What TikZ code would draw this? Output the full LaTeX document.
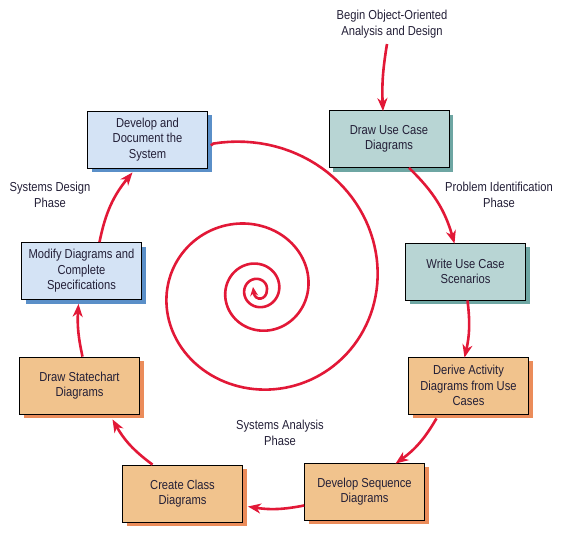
\documentclass[tikz,border=0pt]{standalone}
\usepackage{fontspec}
\setmainfont{Liberation Sans}[FakeStretch=0.86]
\usetikzlibrary{arrows.meta,shadows}
\definecolor{flowred}{RGB}{226,24,55}
\definecolor{inktext}{RGB}{35,31,55}
\definecolor{designfill}{RGB}{212,227,245}
\definecolor{designshade}{RGB}{90,143,200}
\definecolor{probfill}{RGB}{184,213,212}
\definecolor{probshade}{RGB}{110,166,163}
\definecolor{analfill}{RGB}{241,195,141}
\definecolor{analshade}{RGB}{235,140,90}

\begin{document}
\begin{tikzpicture}[x=1pt,y=-1pt]
			\tikzstyle{every node}+=[inner sep=0pt, align=center, text=inktext, font=\fontsize{13}{15.5}\selectfont]
			\tikzstyle{phasebox}=[draw=black, line width=0.8pt, minimum width=120pt, minimum height=57pt]
			\tikzstyle{designbox}=[phasebox, fill=designfill, drop shadow={shadow xshift=4pt, shadow yshift=-4pt, fill=designshade, opacity=1}]
			\tikzstyle{probbox}=[phasebox, fill=probfill, drop shadow={shadow xshift=4pt, shadow yshift=-4pt, fill=probshade, opacity=1}]
			\tikzstyle{analbox}=[phasebox, fill=analfill, drop shadow={shadow xshift=4pt, shadow yshift=-4pt, fill=analshade, opacity=1}]
			\tikzstyle{flow}=[draw=flowred, line width=2.6pt, -{Stealth[length=13pt, width=10pt, inset=4pt]}]
			\useasboundingbox (0,0) rectangle (579,541);
			\node [probbox] (usecase) at (389,139) {Draw Use Case\\Diagrams};
			\node [probbox] (scenario) at (465.5,271.5) {Write Use Case\\Scenarios};
			\node [analbox] (activity) at (468.5,385.5) {Derive Activity\\Diagrams from Use\\Cases};
			\node [analbox] (sequence) at (364.5,491.5) {Develop Sequence\\Diagrams};
			\node [analbox] (classdiag) at (182.5,493.5) {Create Class\\Diagrams};
			\node [analbox] (statechart) at (79.5,385.5) {Draw Statechart\\Diagrams};
			\node [designbox] (modify) at (81.5,271) {Modify Diagrams and\\Complete\\Specifications};
			\node [designbox] (devsys) at (147.5,139.5) {Develop and\\Document the\\System};
			\node (begin) at (392,24) {Begin Object-Oriented\\Analysis and Design};
			\node (probphase) at (499,195) {Problem Identification\\Phase};
			\node (desphase) at (50,195) {Systems Design\\Phase};
			\node (anaphase) at (280,433) {Systems Analysis\\Phase};
			\coordinate (start) at (387,44);
			\draw [flow] (start) to[bend right=6] ([xshift=-6pt, yshift=-1pt]usecase.north);
			\draw [flow] ([xshift=20pt]usecase.south) to[bend left=15] ([xshift=-11pt, yshift=-1pt]scenario.north);
			\draw [flow] ([xshift=2pt]scenario.south) to[bend left=10] ([xshift=-4pt, yshift=-1pt]activity.north);
			\draw [flow] ([xshift=-32pt, yshift=-4pt]activity.south) to[bend left=12] ([xshift=31pt, yshift=-1pt]sequence.north);
			\draw [flow] ([yshift=-14pt]sequence.west) to[bend left=10] ([xshift=5pt, yshift=-13pt]classdiag.east);
			\draw [flow] ([xshift=-30pt]classdiag.north) to[bend left=12] ([xshift=33pt, yshift=-5pt]statechart.south);
			\draw [flow] ([xshift=3pt]statechart.north) to[bend left=8] ([xshift=-3pt, yshift=-4pt]modify.south);
			\draw [flow] ([xshift=18pt]modify.north) to[bend left=14] ([xshift=-15pt, yshift=-4pt]devsys.south);
			\draw [flow, -{Stealth[length=9pt, width=8pt, inset=3pt]}] ([xshift=3pt, yshift=-6pt]devsys.east) -- plot[domain=-17:1170, samples=400, variable=\t] ({258+(147*exp(-0.0024*\t)+14*exp(0-((\t-265)/75)*((\t-265)/75)))*sin(\t)}, {290-(147*exp(-0.0024*\t)+14*exp(0-((\t-265)/75)*((\t-265)/75)))*cos(\t)}) .. controls (267,300) and (255,302) .. (253,287);
			\end{tikzpicture}
\end{document}
